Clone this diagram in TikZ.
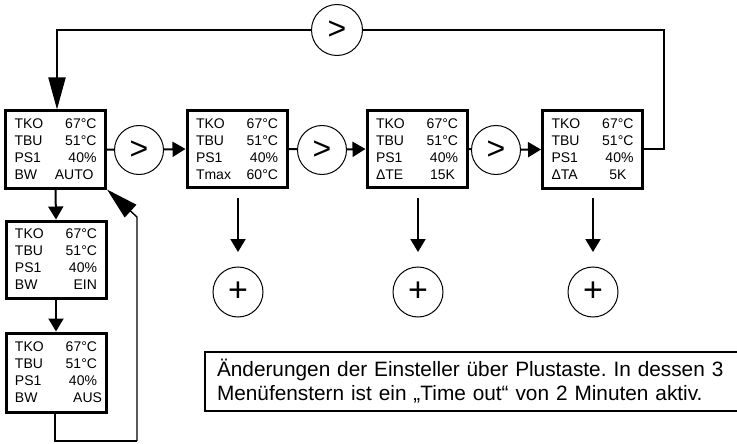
\documentclass[tikz,border=0pt]{standalone}
\usepackage{fontspec}
\setmainfont{Liberation Sans}
\usetikzlibrary{arrows.meta}

% one display row: label left, value right
\newcommand\prow[2]{\makebox[82pt]{#1\hfill#2}}

\tikzset{
  panel/.style={draw, line width=3pt, minimum width=100pt, minimum height=77pt,
    inner sep=0pt, align=left, font=\fontsize{14}{17}\selectfont},
  keyc/.style={draw, circle, line width=1pt, minimum size=49pt, inner sep=0pt,
    font=\fontsize{32}{32}\selectfont},
  plusc/.style={keyc, minimum size=50pt, font=\fontsize{34}{34}\selectfont},
  link/.style={line width=2pt},
  arr/.style={link, -{Triangle[length=13pt,width=15pt]}},
  longarr/.style={link, -{Triangle[length=32pt,width=17pt]}},
  note/.style={draw, line width=2pt, anchor=north west, minimum width=600pt,
    minimum height=59pt, inner xsep=12pt, inner ysep=0pt, align=left,
    text width=576pt, font=\fontsize{20.8}{24}\selectfont},
}

\begin{document}
\begin{tikzpicture}[x=1pt,y=-1pt]
\useasboundingbox (0,0) rectangle (737,444);

% display panels
\node[panel] (b1) at (55.5,149.5) {\prow{TKO}{67°C}\\\prow{TBU}{51°C}\\\prow{PS1}{40\%}\\\prow{BW}{AUTO\kern3pt}};
\node[panel] (b2) at (237,149) {\prow{TKO}{67°C}\\\prow{TBU}{51°C}\\\prow{PS1}{40\%}\\\prow{Tmax}{60°C}};
\node[panel] (b3) at (417,149) {\prow{TKO}{67°C}\\\prow{TBU}{51°C}\\\prow{PS1}{40\%}\\\prow{ΔTE}{15K\kern3pt}};
\node[panel] (b4) at (592.5,149.5) {\prow{TKO}{67°C}\\\prow{TBU}{51°C}\\\prow{PS1}{40\%}\\\prow{ΔTA}{5K\kern7pt}};
\node[panel] (b5) at (56,259.5) {\prow{TKO}{67°C}\\\prow{TBU}{51°C}\\\prow{PS1}{40\%}\\\prow{BW}{EIN}};
\node[panel, minimum height=79pt] (b6) at (56,372.5) {\prow{TKO}{67°C}\\\prow{TBU}{51°C}\\\prow{PS1}{40\%}\\\prow{BW}{AUS\kern-5pt}};

% "next" keys
\node[keyc] (c1) at (139,150) {>};
\node[keyc] (c2) at (322,150) {>};
\node[keyc] (c3) at (496,150) {>};
\node[keyc, minimum size=51pt] (ct) at (337,30) {>};

% "plus" keys
\node[plusc] (p1) at (238,292) {+};
\node[plusc] (p2) at (418,292) {+};
\node[plusc] (p3) at (593,292) {+};

% main row
\draw[link] (b1.east) -- (c1);
\draw[arr] (c1) -- (b2.west);
\draw[link] (b2.east) -- (c2);
\draw[arr] (c2) -- (b3.west);
\draw[link] (b3.east) -- (c3);
\draw[arr] (c3) -- (b4.west);

% return loop over the top
\coordinate (r1) at (664,149);
\coordinate (r2) at (664,30);
\coordinate (l1) at (57,30);
\draw[link] (b4.east |- r1) -- (r1) -- (r2) -- (ct);
\draw[longarr] (ct) -- (l1) -- (l1 |- b1.north);

% left column
\draw[arr] (b1.south) -- (b5.north);
\draw[arr] (b5.south) -- (b6.north);
\coordinate (q1) at (55,441);
\coordinate (q2) at (137,441);
\coordinate (q3) at (137,217);
\draw[link] (b6.south -| q1) -- (q1) -- (q2);
\draw[line width=1.4pt, -{Triangle[length=32pt,width=17pt]}] (q2) -- (q3) -- (b1.south east);

% plus-key arrows
\foreach \k/\x in {1/238,2/418,3/593}{
  \coordinate (d\k a) at (\x,198);
  \coordinate (d\k b) at (\x,252);
  \draw[arr] (d\k a) -- (d\k b);
}

% explanatory note
\node[note] (txt) at (204,351) {\frenchspacing Änderungen der Einsteller über Plustaste. In dessen 3\\Menüfenstern ist ein „Time out“ von 2 Minuten aktiv.};
\end{tikzpicture}
\end{document}
